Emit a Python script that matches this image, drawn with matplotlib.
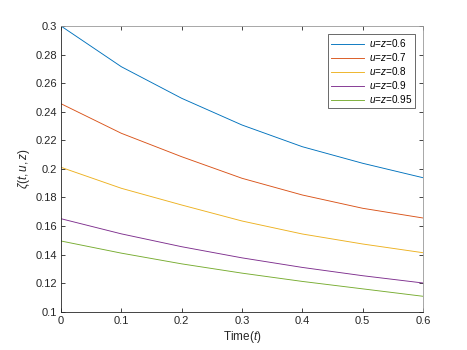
import matplotlib
matplotlib.use("Agg")
import matplotlib.pyplot as plt

# values at t = 0, 0.1, ..., 0.6
t = [0.0, 0.1, 0.2, 0.3, 0.4, 0.5, 0.6]
zeta_06 = [0.3000, 0.2715, 0.2494, 0.2307, 0.2155, 0.2039, 0.1938]
zeta_07 = [0.2456, 0.2249, 0.2085, 0.1934, 0.1817, 0.1724, 0.1656]
zeta_08 = [0.2011, 0.1864, 0.1747, 0.1635, 0.1544, 0.1474, 0.1413]
zeta_09 = [0.1651, 0.1545, 0.1455, 0.1377, 0.1310, 0.1252, 0.1201]
zeta_095 = [0.1495, 0.1410, 0.1335, 0.1270, 0.1212, 0.1160, 0.1108]
labels = ["0.6", "0.7", "0.8", "0.9", "0.95"]

# matlab default colour order
colors = ["#0072BD", "#D95319", "#EDB120", "#7E2F8E", "#77AC30"]

plt.rcParams["font.family"] = ["Liberation Sans", "DejaVu Sans"]
plt.rcParams["mathtext.fontset"] = "custom"
plt.rcParams["mathtext.rm"] = "Liberation Sans"
plt.rcParams["mathtext.it"] = "Liberation Sans:italic"

fig = plt.figure(figsize=(4.67, 3.5), dpi=100)
ax = fig.add_axes([0.1306, 0.1094, 0.7752, 0.8163])

series = [zeta_06, zeta_07, zeta_08, zeta_09, zeta_095]
for ys, lab, c in zip(series, labels, colors):
    ax.plot(t, ys, color=c, lw=0.65, label="$u$=$z$=" + lab)

ax.set_xlim(0, 0.6)
ax.set_ylim(0.1, 0.3)
ax.set_xticks([0, 0.1, 0.2, 0.3, 0.4, 0.5, 0.6])
ax.set_xticklabels(["0", "0.1", "0.2", "0.3", "0.4", "0.5", "0.6"])
ax.set_yticks([0.1, 0.12, 0.14, 0.16, 0.18, 0.2, 0.22, 0.24, 0.26, 0.28, 0.3])
ax.set_yticklabels(["0.1", "0.12", "0.14", "0.16", "0.18", "0.2", "0.22",
                    "0.24", "0.26", "0.28", "0.3"])
ax.tick_params(direction="in", top=True, right=True, length=3, width=0.6,
               labelsize=8, colors="#262626", pad=3)
for sp in ax.spines.values():
    sp.set_color("#262626")
    sp.set_linewidth(0.6)
ax.spines["top"].set_color("#999999")
ax.spines["right"].set_color("#999999")

ax.set_xlabel("Time($t$)", fontsize=8.5, color="#262626", labelpad=2)
ax.set_ylabel(r"$\zeta(t,u,z)$", fontsize=8.5, color="#262626", labelpad=2)

leg = ax.legend(loc="upper right", fontsize=7.2, frameon=True, fancybox=False,
                edgecolor="#262626", borderaxespad=0.8, handlelength=3.3,
                labelspacing=0.2, borderpad=0.3, handletextpad=0.5)
leg.get_frame().set_linewidth(0.6)

fig.savefig("out.png", dpi=100)
